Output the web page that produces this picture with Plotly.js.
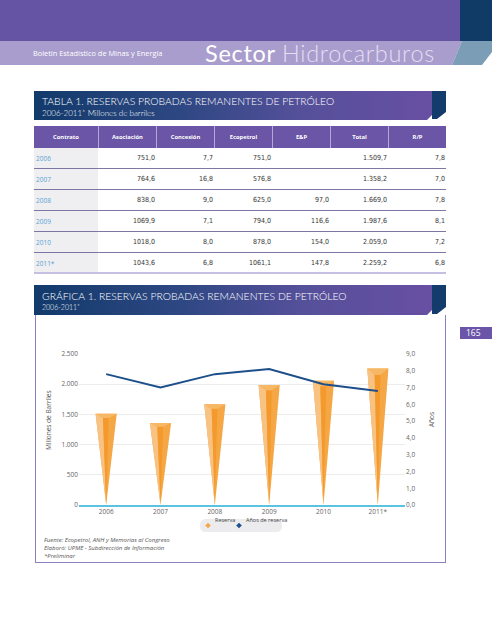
<!DOCTYPE html>
<html><head><meta charset="utf-8">
<script src="https://cdn.plot.ly/plotly-3.0.1.min.js"></script>
<style>
body{margin:0;width:492px;height:640px;position:relative;background:#fff;overflow:hidden;font-family:'Open Sans',sans-serif;}
.abs{position:absolute;}
.cell{position:absolute;box-sizing:border-box;white-space:nowrap;}
.hd{color:#fff;font-weight:bold;font-size:5.8px;text-align:center;line-height:22px;font-family:'Open Sans',sans-serif;}
.num{font-family:'Liberation Sans Narrow','DejaVu Sans Condensed',sans-serif;font-size:7px;color:#333;text-align:right;line-height:21px;padding-right:1px;}
.yr{font-size:6.5px;color:#5aa3d3;line-height:21px;padding-left:2px;}
.ttl{color:#fff;font-family:'Lato','Open Sans',sans-serif;font-weight:300;}
</style></head><body>
<!-- header band -->
<div class="abs" style="left:0;top:0;width:492px;height:41px;background:#6553a3"></div>
<div class="abs" style="left:460px;top:0;width:32px;height:41px;background:#0f3b66"></div>
<div class="abs" style="left:0;top:41px;width:492px;height:24px;background:#a99dcd;clip-path:polygon(0 0,462px 0,452px 24px,0 24px)"></div>
<div class="abs" style="left:0;top:41px;width:492px;height:24px;background:#7b9db6;clip-path:polygon(452px 24px,462px 0,492px 0,492px 11px,482px 24px)"></div>
<div class="abs" style="left:33px;top:48px;font-size:7.4px;color:#fff;line-height:10px">Boletín Estadístico de Minas y Energía</div>
<div class="abs" style="left:205px;top:38px;font-size:23.5px;line-height:30px;color:#fff;font-family:'Lato','Open Sans',sans-serif;letter-spacing:0.7px"><span style="font-weight:400">Sector</span> <span style="font-weight:300;color:#e4def4">Hidrocarburos</span></div>

<!-- table title -->
<div class="abs" style="left:34px;top:91px;width:412px;height:29px;background:linear-gradient(90deg,#123a6b 0%,#2d4782 35%,#55509a 65%,#6a4fa3 100%);clip-path:polygon(0 0,400px 0,400px 22px,393px 29px,0 29px)"></div>
<div class="abs" style="left:432px;top:91px;width:14px;height:29px;background:#133b6b;clip-path:polygon(0 0,14px 0,14px 21px,5px 28px,0 28px)"></div>
<div class="abs ttl" style="left:42px;top:95px;font-size:10.4px;line-height:13px">TABLA 1. RESERVAS PROBADAS REMANENTES DE PETRÓLEO</div>
<div class="abs ttl" style="left:42px;top:108px;font-size:8px;line-height:10px">2006-2011* Millones de barriles</div>

<div id="tbl"></div>

<!-- chart title -->
<div class="abs" style="left:34px;top:285px;width:412px;height:30px;background:linear-gradient(90deg,#123a6b 0%,#2d4782 35%,#55509a 65%,#6a4fa3 100%);clip-path:polygon(0 0,400px 0,400px 23px,393px 30px,0 30px)"></div>
<div class="abs" style="left:432px;top:285px;width:14px;height:30px;background:#133b6b;clip-path:polygon(0 0,14px 0,14px 22px,5px 29px,0 29px)"></div>
<div class="abs ttl" style="left:42px;top:290px;font-size:10.4px;line-height:13px">GRÁFICA 1. RESERVAS PROBADAS REMANENTES DE PETRÓLEO</div>
<div class="abs ttl" style="left:42px;top:303px;font-size:7px;line-height:9px">2006-2011*</div>

<div class="abs" style="left:35px;top:315px;width:409px;height:247px;border-left:1px solid #8a82c0;border-right:1px solid #8a82c0;border-bottom:1px solid #8a82c0"></div>
<div class="abs" style="left:460px;top:327px;width:32px;height:12px;background:#6a55a8;color:#fff;font-size:8.5px;line-height:12px;padding-left:6px;box-sizing:border-box">165</div>

<div id="chart" class="abs" style="left:36px;top:316px;width:409px;height:230px"></div>

<div class="abs" style="left:44px;top:536px;font-size:6px;line-height:8px;color:#555;font-style:italic">Fuente: Ecopetrol, ANH y Memorias al Congreso<br>Elaboró: UPME - Subdirección de Información<br>*Preliminar</div>

<script>
// ---- data ----
const years = ['2006','2007','2008','2009','2010','2011*'];
const asociacion = [751.0, 764.6, 838.0, 1069.9, 1018.0, 1043.6];
const concesion = [7.7, 16.8, 9.0, 7.1, 8.0, 6.8];
const ecopetrol = [751.0, 576.8, 625.0, 794.0, 878.0, 1061.1];
const eyp = [null, null, 97.0, 116.6, 154.0, 147.8];
const total = [1509.7, 1358.2, 1669.0, 1987.6, 2059.0, 2259.2];
const rp = [7.8, 7.0, 7.8, 8.1, 7.2, 6.8];
const headers = ['Contrato','Asociación','Concesión','Ecopetrol','E&P','Total','R/P'];

function fmt(v, thou){
  if (v === null || v === undefined) return '';
  let s = v.toFixed(1).split('.');
  let ip = s[0];
  if (thou && ip.length > 3) ip = ip.slice(0, ip.length-3) + '.' + ip.slice(-3);
  return ip + ',' + s[1];
}

// ---- table ----
const tbl = document.getElementById('tbl');
const colX = [34,98,156,214,272,330,388,446];
function add(html, cls, x, y, w, h, style){
  const d = document.createElement('div');
  d.className = 'cell ' + cls;
  d.style.left = x+'px'; d.style.top = y+'px'; d.style.width = w+'px'; d.style.height = h+'px';
  if (style) d.style.cssText += style;
  d.textContent = html;
  tbl.appendChild(d);
}
add('', '', 34, 126, 412, 22, 'background:#6a55a6');
headers.forEach((h,i)=>{
  add(h, 'hd', colX[i], 126, colX[i+1]-colX[i], 22, i>0 ? 'border-left:1px solid #b3a9d8' : '');
});
const cols = [asociacion.map(v=>fmt(v,false)), concesion.map(v=>fmt(v,false)), ecopetrol.map(v=>fmt(v,false)),
              eyp.map(v=>fmt(v,false)), total.map(v=>fmt(v,true)), rp.map(v=>fmt(v,false))];
years.forEach((y,r)=>{
  const top = 148 + 21*r;
  const last = r === years.length-1;
  add('', '', 34, top, 412, 21, last ? 'border-bottom:2px solid #c6bfe2' : 'border-bottom:1.5px solid #7d78a3');
  add(y, 'yr', 34, top, 64, last ? 19 : 19.5, 'background:#efeff1');
  cols.forEach((c,ci)=>{ add(c[r], 'num', colX[ci+1], top, colX[ci+2]-colX[ci+1], 20, ''); });
});

// ---- chart ----
const W = 0.195;
const xs = years.map((_,i)=>i);
function poly(fn){
  const X=[], Y=[];
  total.forEach((v,i)=>{ fn(i,v).forEach(p=>{X.push(p[0]);Y.push(p[1]);}); X.push(null); Y.push(null); });
  return {X,Y};
}
const layers = [
  {c:'#f5a746', f:(i,v)=>[[i-W,v],[i+W,v],[i,0],[i-W,v]]},
  {c:'#f8c283', f:(i,v)=>[[i-W,v],[i-0.3*W,v*0.955],[i,0],[i-W,v]]},
  {c:'#f49a2c', f:(i,v)=>[[i-0.3*W,v*0.955],[i+0.25*W,v*0.955],[i,0],[i-0.3*W,v*0.955]]},
  {c:'#f7b866', f:(i,v)=>[[i-W,v],[i+W,v],[i+0.25*W,v*0.955],[i-0.3*W,v*0.955],[i-W,v]]}
];
const traces = layers.map(L=>{
  const p = poly(L.f);
  return {x:p.X, y:p.Y, type:'scatter', mode:'lines', fill:'toself', fillcolor:L.c,
          line:{width:0,color:L.c}, hoverinfo:'skip', connectgaps:false, yaxis:'y'};
});
traces.push({x:xs, y:rp, type:'scatter', mode:'lines', yaxis:'y2', line:{color:'#1d4f8b', width:2}, name:'Años de reserva'});

const tf = {family:'Open Sans, sans-serif', size:6.5, color:'#666'};
function px(x){return (x-79)/326;} function py(y){return (505-y)/151;}
function diamond(cx,cy,r,col){
  return {type:'path', xref:'paper', yref:'paper', fillcolor:col, line:{width:0},
    path:`M ${px(cx-r)} ${py(cy)} L ${px(cx)} ${py(cy-r)} L ${px(cx+r)} ${py(cy)} L ${px(cx)} ${py(cy+r)} Z`};
}
const x0=200,x1=282,y0=519,y1=532,rr=6;
const box = {type:'path', xref:'paper', yref:'paper', fillcolor:'#ececef', line:{width:0}, layer:'below',
  path:`M ${px(x0+rr)} ${py(y0)} L ${px(x1-rr)} ${py(y0)} Q ${px(x1)} ${py(y0)} ${px(x1)} ${py(y0+rr)} L ${px(x1)} ${py(y1-rr)} Q ${px(x1)} ${py(y1)} ${px(x1-rr)} ${py(y1)} L ${px(x0+rr)} ${py(y1)} Q ${px(x0)} ${py(y1)} ${px(x0)} ${py(y1-rr)} L ${px(x0)} ${py(y0+rr)} Q ${px(x0)} ${py(y0)} ${px(x0+rr)} ${py(y0)} Z`};

const layout = {
  width:409, height:230, margin:{l:43, r:40, t:38, b:41},
  paper_bgcolor:'rgba(0,0,0,0)', plot_bgcolor:'rgba(0,0,0,0)',
  separators:',.', showlegend:false,
  xaxis:{range:[-0.5,5.5], tickvals:xs, ticktext:years, showgrid:false, zeroline:false,
         showline:true, linecolor:'#5cc2e2', linewidth:1.5, ticks:'', tickfont:tf, fixedrange:true},
  yaxis:{range:[0,2500], dtick:500, tickformat:',d', gridcolor:'#ececec', gridwidth:1, zeroline:false,
         ticks:'', tickfont:tf, fixedrange:true},
  yaxis2:{overlaying:'y', side:'right', range:[0,9], dtick:1, tickformat:'.1f', showgrid:false,
          zeroline:false, ticks:'', tickfont:tf, fixedrange:true},
  shapes:[box, diamond(208,525.5,2.8,'#f5a746'), diamond(239,525.5,2.8,'#1d4f8b')],
  annotations:[
    {text:'Millones de Barriles', xref:'paper', yref:'paper', x:px(48), y:py(420), xanchor:'center', yanchor:'middle', textangle:-90, showarrow:false, font:{family:'Open Sans, sans-serif', size:6.5, color:'#555'}},
    {text:'Años', xref:'paper', yref:'paper', x:px(431), y:py(420), xanchor:'center', yanchor:'middle', textangle:-90, showarrow:false, font:{family:'Open Sans, sans-serif', size:6.5, color:'#555'}},
    {text:'Reserva', xref:'paper', yref:'paper', x:px(213), y:py(525.5), xanchor:'left', showarrow:false, font:{family:'Open Sans, sans-serif', size:5.5, color:'#444'}},
    {text:'Años de reserva', xref:'paper', yref:'paper', x:px(244), y:py(525.5), xanchor:'left', showarrow:false, font:{family:'Open Sans, sans-serif', size:5.5, color:'#444'}}
  ]
};
Plotly.newPlot('chart', traces, layout, {displayModeBar:false, staticPlot:true});
</script>
</body></html>
